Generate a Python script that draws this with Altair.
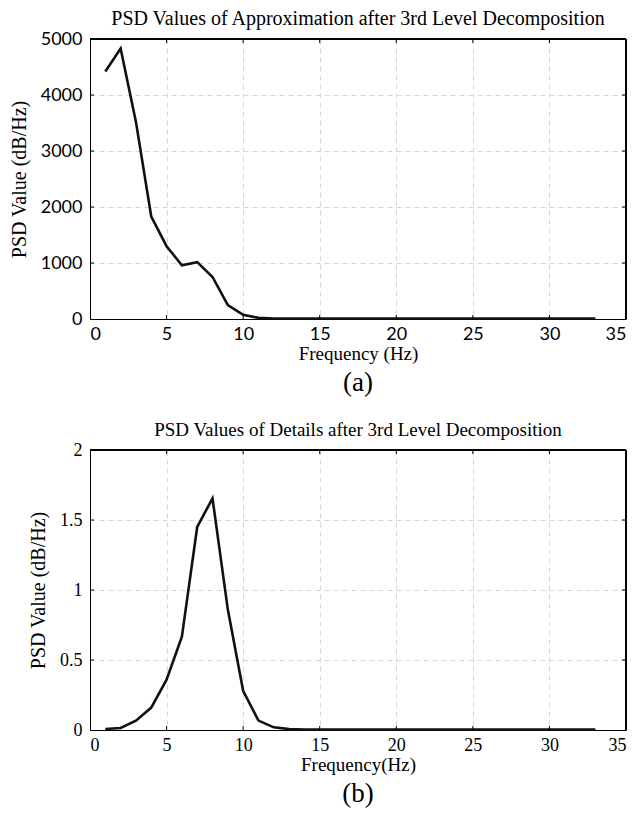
import altair as alt
import pandas as pd

freq = list(range(1, 34))
approx_psd = [4420, 4830, 3520, 1830, 1300, 960, 1015, 750, 250, 75, 20] + [8] * 22
detail_psd = [0.007, 0.014, 0.067, 0.16, 0.36, 0.666, 1.45, 1.655, 0.86, 0.28, 0.067, 0.019, 0.006] + [0.003] * 20

x_ticks = [0, 5, 10, 15, 20, 25, 30, 35]
approx_y_ticks = [0, 1000, 2000, 3000, 4000, 5000]
detail_y_ticks = [0, 0.5, 1, 1.5, 2]

SERIF = "Liberation Serif"
SANS = "Lato"
W, H = 536, 280
TL = 4  # inward tick length

df_a = pd.DataFrame({"f": freq, "v": approx_psd})
df_b = pd.DataFrame({"f": freq, "v": detail_psd})

grid = dict(grid=True, gridDash=[5, 4], gridColor="#d6d6d6", gridWidth=1,
            domain=True, domainColor="black", domainWidth=1,
            ticks=False, labelColor="black", titleColor="black",
            titleFontWeight="normal", titleFont=SERIF)


def panel(df, yticks, ymax, titles, xtitle, tag, label_font, fmt, tsize):
    xs = alt.Scale(domain=[0, 35], nice=False)
    ys = alt.Scale(domain=[0, ymax], nice=False)
    line = alt.Chart(df).mark_line(color="#111111", strokeWidth=2.6).encode(
        x=alt.X("f:Q", scale=xs,
                axis=alt.Axis(values=x_ticks, title=xtitle, labelFont=label_font,
                              labelFontSize=18, labelPadding=6, titlePadding=1,
                              titleFontSize=19, **grid)),
        y=alt.Y("v:Q", scale=ys,
                axis=alt.Axis(values=yticks, title=titles[1], format=fmt, labelFont=label_font,
                              labelFontSize=18, labelPadding=8, titlePadding=11,
                              titleFontSize=20, **grid)),
    )
    xt = pd.DataFrame({"f": x_ticks[1:-1]})
    yt = pd.DataFrame({"v": yticks[1:-1]})
    tick_style = dict(color="black", strokeWidth=1)
    xb = alt.Chart(xt).mark_rule(**tick_style).encode(
        x=alt.X("f:Q", scale=xs), y=alt.value(H - TL), y2=alt.value(H))
    xtop = alt.Chart(xt).mark_rule(**tick_style).encode(
        x=alt.X("f:Q", scale=xs), y=alt.value(0), y2=alt.value(TL))
    yl = alt.Chart(yt).mark_rule(**tick_style).encode(
        y=alt.Y("v:Q", scale=ys), x=alt.value(0), x2=alt.value(TL))
    yr = alt.Chart(yt).mark_rule(**tick_style).encode(
        y=alt.Y("v:Q", scale=ys), x=alt.value(W - TL), x2=alt.value(W))
    frame_top = alt.Chart(xt).mark_rule(**tick_style).encode(
        x=alt.value(0), x2=alt.value(W), y=alt.value(0))
    frame_right = alt.Chart(xt).mark_rule(**tick_style).encode(
        x=alt.value(W), y=alt.value(0), y2=alt.value(H))
    lab = alt.Chart(pd.DataFrame({"t": [tag]})).mark_text(
        font=SERIF, fontSize=27, color="black", baseline="top"
    ).encode(text="t:N", x=alt.value(W / 2), y=alt.value(H + 51))
    return alt.layer(line, xb, xtop, yl, yr, frame_top, frame_right, lab).properties(
        width=W, height=H,
        title=alt.TitleParams(titles[0], font=SERIF, fontSize=tsize, fontWeight="normal",
                              anchor="middle", color="black", offset=1),
    )


top = panel(df_a, approx_y_ticks, 5000,
            ["PSD Values of Approximation after 3rd Level Decomposition", "PSD Value (dB/Hz)"],
            "Frequency (Hz)", "(a)", SANS, "d", 20)
bottom = panel(df_b, detail_y_ticks, 2,
               ["PSD Values of Details after 3rd Level Decomposition", "PSD Value (dB/Hz)"],
               "Frequency(Hz)", "(b)", SERIF, "", 19)

chart = alt.vconcat(top, bottom, spacing=23).properties(padding=0).configure(
    background="white"
).configure_view(stroke="black", strokeWidth=1)

chart.save("out.html", embed_options={"renderer": "svg", "actions": False})
